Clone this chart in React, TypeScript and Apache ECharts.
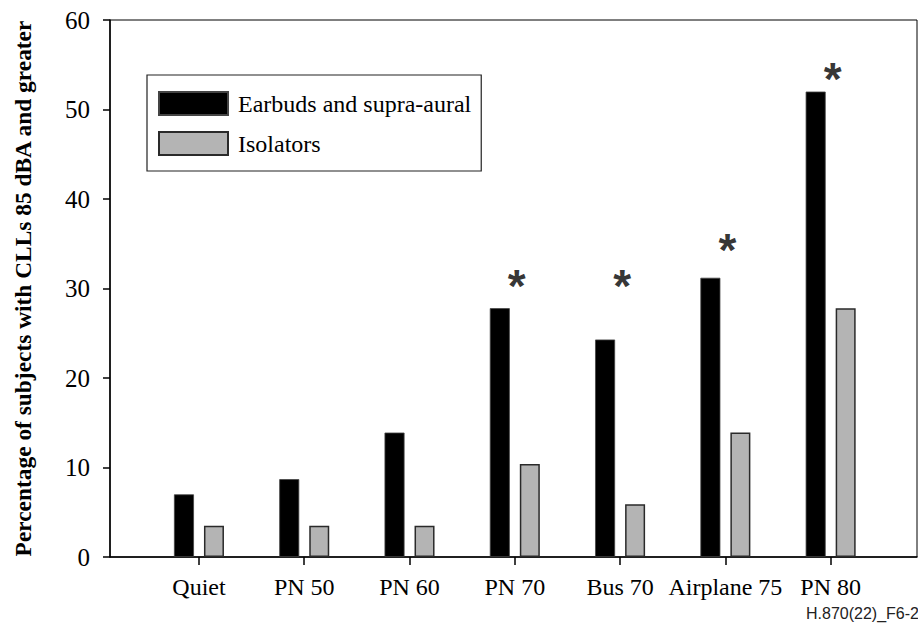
import React, { useEffect, useRef } from "react";
import * as echarts from "echarts";

const categories = ["Quiet", "PN 50", "PN 60", "PN 70", "Bus 70", "Airplane 75", "PN 80"];
const earbudsValues = [7.0, 8.7, 13.9, 27.8, 24.3, 31.2, 52.0];
const isolatorValues = [3.5, 3.5, 3.5, 10.4, 5.9, 13.9, 27.8];
const asteriskCategoryIndex = [3, 4, 5, 6];
const asteriskLevels = [31.2, 31.2, 35.2, 54.3];
const yTicks = [0, 10, 20, 30, 40, 50, 60];
const seriesNames = ["Earbuds and supra-aural", "Isolators"];
const yTitle = "Percentage of subjects with CLLs 85 dBA and greater";
const figureId = "H.870(22)_F6-2";

const SERIF = "'Liberation Serif', 'Times New Roman', Times, serif";
const SANS = "'Liberation Sans', Arial, Helvetica, sans-serif";

export default function App() {
  const ref = useRef<HTMLDivElement>(null);

  useEffect(() => {
    document.body.style.margin = "0";
    if (!ref.current) return;
    const chart = echarts.init(ref.current, undefined, { renderer: "svg" });
    const idx = categories.map((_, i) => i);

    const option: any = {
      animation: false,
      backgroundColor: "#ffffff",
      grid: {
        left: 110,
        right: 1,
        top: 20,
        bottom: 69,
        show: true,
        borderColor: "#000",
        borderWidth: 1,
        backgroundColor: "transparent",
      },
      legend: {
        data: seriesNames,
        orient: "vertical",
        left: 147,
        top: 75,
        padding: [16, 10, 15, 11],
        itemWidth: 69,
        itemHeight: 23,
        itemGap: 15,
        borderColor: "#222",
        borderWidth: 1.2,
        icon: "rect",
        selectedMode: false,
        textStyle: {
          fontFamily: SERIF,
          fontSize: 24,
          color: "#000",
          padding: [0, 0, 0, 5],
        },
      },
      xAxis: {
        type: "value",
        min: -0.845,
        max: 6.82,
        splitLine: { show: false },
        axisLine: { show: true, onZero: false, lineStyle: { color: "#000", width: 1.5 } },
        axisTick: {
          show: true,
          length: 8,
          customValues: idx,
          lineStyle: { color: "#000", width: 1.5 },
        },
        axisLabel: {
          show: true,
          customValues: idx,
          margin: 18,
          fontFamily: SERIF,
          fontSize: 24,
          color: "#000",
          formatter: (v: number) => categories[Math.round(v)] ?? "",
        },
      },
      yAxis: {
        type: "value",
        min: 0,
        max: 60,
        interval: 10,
        name: yTitle,
        nameLocation: "middle",
        nameGap: 76,
        nameTextStyle: {
          fontFamily: SERIF,
          fontSize: 23.4,
          fontWeight: "bold",
          color: "#000",
        },
        splitLine: { show: false },
        axisLine: { show: true, onZero: false, lineStyle: { color: "#000", width: 1.5 } },
        axisTick: { show: true, length: 7, lineStyle: { color: "#000", width: 1.5 } },
        axisLabel: {
          margin: 20,
          fontFamily: SERIF,
          fontSize: 25,
          color: "#000",
          customValues: yTicks,
        },
      },
      series: [
        {
          name: seriesNames[0],
          type: "bar",
          barWidth: 20,
          barGap: "50%",
          data: idx.map((i) => [i, earbudsValues[i]]),
          itemStyle: { color: "#000", borderColor: "#444", borderWidth: 0.8 },
          silent: true,
        },
        {
          name: seriesNames[1],
          type: "bar",
          barWidth: 20,
          barGap: "50%",
          data: idx.map((i) => [i, isolatorValues[i]]),
          itemStyle: { color: "#b4b4b4", borderColor: "#2a2a2a", borderWidth: 1.5 },
          silent: true,
        },
        {
          name: "significance",
          type: "scatter",
          symbolSize: 0,
          silent: true,
          data: asteriskCategoryIndex.map((c, k) => [c, asteriskLevels[k]]),
          itemStyle: { color: "transparent" },
          label: {
            show: true,
            position: "inside",
            formatter: "*",
            fontFamily: SANS,
            fontWeight: "bold",
            fontSize: 46,
            color: "#000",
            offset: [2, 8],
          },
        },
      ],
      graphic: [
        {
          type: "text",
          left: 806,
          top: 605,
          style: {
            text: figureId,
            fontFamily: SANS,
            fontSize: 16,
            fill: "#222",
          },
        },
      ],
    };

    chart.setOption(option);
    return () => chart.dispose();
  }, []);

  return <div ref={ref} style={{ width: 918, height: 626 }} />;
}
